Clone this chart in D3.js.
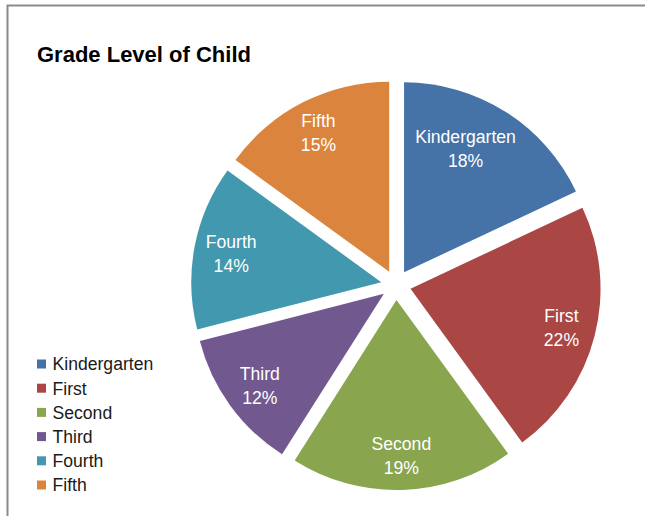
<!DOCTYPE html>
<html>
<head>
<meta charset="utf-8">
<script src="https://cdn.jsdelivr.net/npm/d3@7"></script>
<style>
  html, body { margin: 0; padding: 0; background: #fff; }
  svg { display: block; }
</style>
</head>
<body>
<svg id="chart" width="645" height="516"></svg>
<script>
// Grade level of child: share of respondents per grade
const categories = ["Kindergarten", "First", "Second", "Third", "Fourth", "Fifth"];
const percents = [18, 22, 19, 12, 14, 15];
const colors = ["#4572A7", "#AA4643", "#89A54E", "#71588F", "#4198AF", "#DB843D"];
const title = "Grade Level of Child";

const W = 645, H = 516;
const cx = 396, cy = 285, radius = 190, explode = 15;
const fontFamily = "'Liberation Sans', Arial, sans-serif";
const labelSize = 17.6;
const lineGap = 24;

const svg = d3.select("#chart");

// chart area frame (top and left edges visible)
svg.append("rect")
  .attr("x", 7.5).attr("y", 5.5)
  .attr("width", W + 20).attr("height", H + 20)
  .attr("fill", "#fff")
  .attr("stroke", "#8a8a8a")
  .attr("stroke-width", 2);

svg.append("text")
  .attr("x", 37).attr("y", 62)
  .attr("font-family", fontFamily)
  .attr("font-weight", "bold")
  .attr("font-size", 22)
  .attr("fill", "#000")
  .text(title);

const pie = d3.pie().sort(null).value(d => d);
const arcs = pie(percents);
const arcGen = d3.arc().innerRadius(0).outerRadius(radius);

const mid = d => (d.startAngle + d.endAngle) / 2;
const apexOf = d => [cx + explode * Math.sin(mid(d)), cy - explode * Math.cos(mid(d))];

const pieG = svg.append("g");

pieG.selectAll("path.slice")
  .data(arcs)
  .join("path")
  .attr("class", "slice")
  .attr("transform", d => { const a = apexOf(d); return `translate(${a[0]},${a[1]})`; })
  .attr("d", arcGen)
  .attr("fill", (d, i) => colors[i]);

// measure label widths
const measure = svg.append("text")
  .attr("font-family", fontFamily)
  .attr("font-size", labelSize)
  .attr("visibility", "hidden");
function textWidth(s) { measure.text(s); return measure.node().getComputedTextLength(); }

// place each label near the slice's bisector, nudged so its box stays inside the slice
const edgePad = 4, rimPad = 8;
const boxH = lineGap + labelSize * 0.85;
function fits(d, x, y, w) {
  const [ax, ay] = apexOf(d);
  const u0 = [Math.sin(d.startAngle), -Math.cos(d.startAngle)];
  const u1 = [Math.sin(d.endAngle), -Math.cos(d.endAngle)];
  const corners = [[x - w / 2, y - boxH / 2], [x + w / 2, y - boxH / 2],
                   [x - w / 2, y + boxH / 2], [x + w / 2, y + boxH / 2]];
  return corners.every(([px, py]) => {
    const rx = px - ax, ry = py - ay;
    if (Math.hypot(rx, ry) > radius - rimPad) return false;
    if (u0[0] * ry - u0[1] * rx < edgePad) return false;
    if (u1[0] * ry - u1[1] * rx > -edgePad) return false;
    return true;
  });
}

const labelPos = arcs.map((d, i) => {
  const w = Math.max(textWidth(categories[i]), textWidth(percents[i] + "%"));
  const [ax, ay] = apexOf(d);
  const px = ax + radius * 0.82 * Math.sin(mid(d));
  const py = ay - radius * 0.82 * Math.cos(mid(d));
  if (fits(d, px, py, w)) return [px, py];
  // prefer sideways shifts over vertical ones
  let best = [px, py], bestD = Infinity;
  for (let dx = -90; dx <= 90; dx += 0.5) {
    for (let dy = -90; dy <= 90; dy += 0.5) {
      const dd = dx * dx + 4 * dy * dy;
      if (dd < bestD && fits(d, px + dx, py + dy, w)) { bestD = dd; best = [px + dx, py + dy]; }
    }
  }
  return best;
});
measure.remove();

const labels = pieG.selectAll("g.label")
  .data(arcs)
  .join("g")
  .attr("class", "label")
  .attr("font-family", fontFamily)
  .attr("font-size", labelSize)
  .attr("fill", "#fff")
  .attr("text-anchor", "middle");

labels.append("text")
  .attr("x", (d, i) => labelPos[i][0])
  .attr("y", (d, i) => labelPos[i][1] - lineGap / 2 + labelSize * 0.36)
  .text((d, i) => categories[i]);

labels.append("text")
  .attr("x", (d, i) => labelPos[i][0])
  .attr("y", (d, i) => labelPos[i][1] + lineGap / 2 + labelSize * 0.36)
  .text((d, i) => percents[i] + "%");

// legend
const legendY = d3.scalePoint().domain(categories).range([364, 485]);
const legend = svg.append("g")
  .attr("font-family", fontFamily)
  .attr("font-size", labelSize);

const items = legend.selectAll("g")
  .data(categories)
  .join("g")
  .attr("transform", d => `translate(0,${legendY(d)})`);

items.append("rect")
  .attr("x", 37).attr("y", -4.5)
  .attr("width", 9).attr("height", 9)
  .attr("fill", (d, i) => colors[i]);

items.append("text")
  .attr("x", 52.5)
  .attr("y", labelSize * 0.36)
  .attr("fill", "#1a1a1a")
  .text(d => d);
</script>
</body>
</html>
